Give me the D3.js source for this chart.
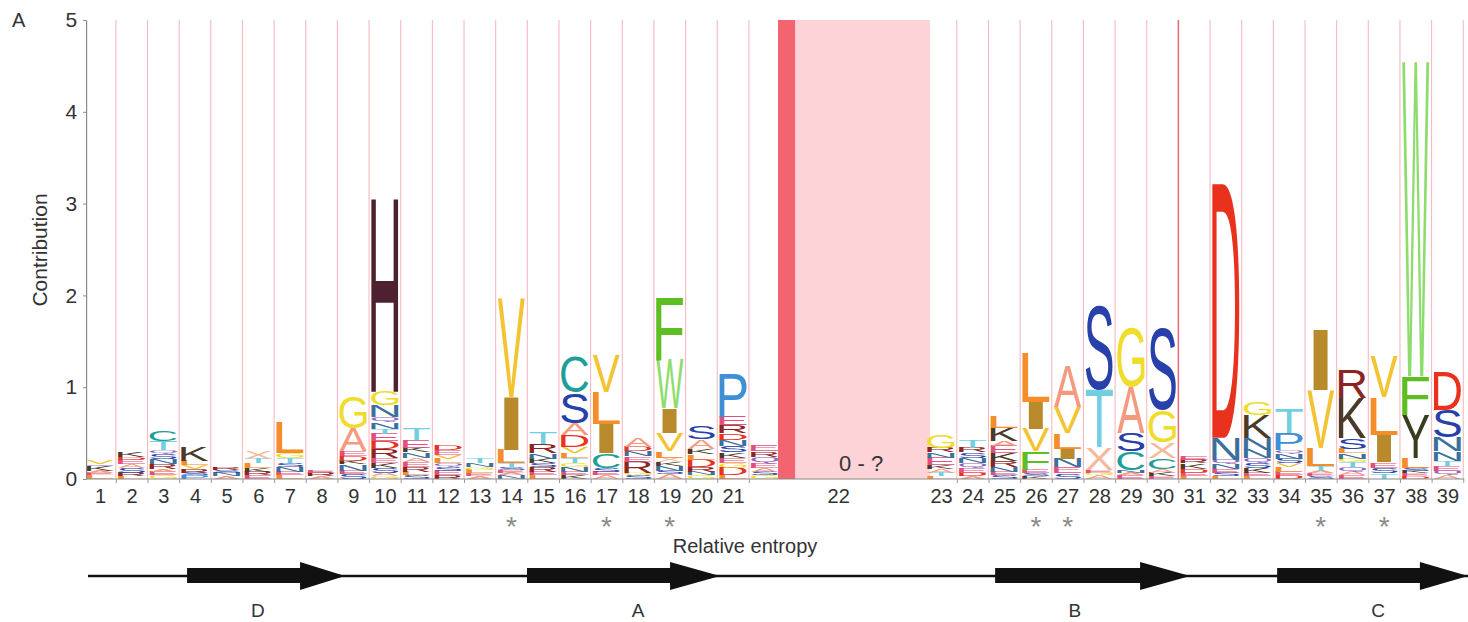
<!DOCTYPE html>
<html><head><meta charset="utf-8">
<script src="https://cdn.jsdelivr.net/npm/d3@7"></script>
<style>body{margin:0;background:#fff}svg{display:block}</style>
</head><body>
<svg id="chart" width="1468" height="622"></svg>
<script>
// ---------- data ----------
const columnLabels = ["1","2","3","4","5","6","7","8","9","10","11","12","13","14","15","16","17","18","19","20","21","","22",
  "23","24","25","26","27","28","29","30","31","32","33","34","35","36","37","38","39"];
// letters per column, bottom to top
const columnLetters = ["LEAKQV","LRSAEDK","GEARNSQTC","PSRVLK","ANSR","ERKLTX","LENSTGL","ARE","SENKDEAG",
  "GASKERDETNQNGH","SLREANKET","RESQLVED","AELGNT","NAESTLIV","LERSKNRT","KENGTLVDASC","AESCILV","SGRENDA",
  "ASNKXLVIWF","GNRDLKAS","LDGEKSNDREP","GSAEQRE","",
  "LTAKENRG","ADEQNSRT","SENRKEAKL","KSEFVIL","SENILVA","AGEXTS","EANCSAG","EKACXGS","LEDKRE","LSENQND",
  "LEKSQNNKG","DELVSNQPT","SEATLVI","EAQTGNLSKR","TSEILV","DEKSLYFW","AQETNNSD"];
const columnHeights = [
  [.04,.03,.02,.05,.02,.04],
  [.03,.04,.05,.04,.05,.03,.05],
  [.04,.04,.03,.05,.06,.05,.04,.1,.12],
  [.04,.03,.04,.04,.05,.15],
  [.03,.04,.03,.03],
  [.04,.04,.04,.05,.05,.08],
  [.04,.04,.05,.04,.06,.05,.34],
  [.03,.04,.03],
  [.05,.04,.07,.04,.05,.05,.25,.35],
  [.03,.04,.05,.05,.06,.1,.08,.08,.06,.07,.05,.13,.15,2.1],
  [.04,.04,.05,.06,.04,.06,.05,.08,.13],
  [.04,.05,.04,.04,.05,.04,.06,.06],
  [.03,.03,.04,.03,.04,.05],
  [.04,.03,.03,.03,.04,.15,.57,1.08],
  [.04,.04,.05,.04,.05,.06,.1,.12],
  [.04,.04,.05,.04,.06,.05,.07,.13,.13,.33,.39],
  [.04,.04,.04,.16,.32,.35,.4],
  [.04,.03,.12,.06,.05,.05,.1],
  [.05,.04,.05,.04,.05,.07,.2,.27,.53,.68],
  [.04,.04,.05,.08,.06,.06,.1,.14],
  [.04,.08,.05,.06,.06,.07,.07,.07,.09,.09,.47],
  [.04,.04,.04,.05,.07,.06,.07],
  [],
  [.03,.04,.04,.04,.08,.06,.05,.14],
  [.03,.04,.05,.05,.06,.06,.05,.08],
  [.04,.04,.05,.07,.08,.08,.05,.15,.12],
  [.03,.03,.04,.2,.25,.29,.53],
  [.06,.07,.09,.11,.17,.28,.44],
  [.04,.03,.03,.24,.63,.93],
  [.04,.03,.03,.2,.2,.5,.65],
  [.03,.04,.04,.12,.17,.35,.9],
  [.03,.04,.04,.06,.04,.04],
  [.03,.04,.04,.05,.05,.24,2.77],
  [.03,.04,.05,.05,.06,.09,.13,.25,.14],
  [.04,.04,.05,.04,.05,.06,.04,.18,.27],
  [.03,.03,.03,.05,.2,.63,.65],
  [.04,.04,.05,.05,.04,.06,.05,.12,.43,.31],
  [.06,.06,.06,.3,.41,.44],
  [.03,.03,.03,.03,.11,.47,.42,3.43],
  [.04,.05,.05,.06,.1,.15,.3,.42]
];
const starredColumns = ["14","17","19","26","27","35","37"];
const yTicks = [0,1,2,3,4,5];
const gapText = "0 - ?";
const strandNames = ["D","A","B","C"];
const strandStart = [3.25, 13.99, 28.78, 37.69];
const strandHeadStart = [6.82, 18.51, 33.36, 42.20];
const strandEnd = [8.24, 20.09, 34.94, 43.72];
const strandLabelAt = [5.49, 17.50, 31.30, 40.88];

// ---------- styles ----------
const letterColors = {A:"#f59a7f",C:"#1f9e9a",D:"#e8321e",E:"#e34f7a",F:"#5fbf22",G:"#f0dc2a",H:"#4e2130",
  I:"#b88a2c",K:"#4b3a28",L:"#f48d2a",M:"#b060c8",N:"#3b6f9c",P:"#3f8fd6",Q:"#9060c0",R:"#8c2424",
  S:"#2740aa",T:"#72cfe2",V:"#f3c331",W:"#8fdc6e",X:"#f6b99b",Y:"#3b3b1f"};
const FONT = "'Liberation Sans', Arial, Helvetica, sans-serif";
const textColor = "#333";

const svg = d3.select("#chart");
const x = d3.scaleLinear().domain([0, 43.72]).range([84.2, 1468]);
const y = d3.scaleLinear().domain([0, 5]).range([479, 20]);

function slotStart(i){ return i <= 21 ? i : 26.57 + (i - 23); }
const region22 = {label: 23.82, barStart: 21.92, barEnd: 22.46, pinkEnd: 26.72};

// gridlines
const bounds = [];
columnLabels.forEach((l,i)=>{ if(i!==22) bounds.push(slotStart(i)+1); });
bounds.push(26.57);
svg.append("g").selectAll("line").data(bounds).join("line")
  .attr("x1", d=>x(d)).attr("x2", d=>x(d)).attr("y1", y(5)).attr("y2", y(0))
  .attr("stroke", d=> Math.abs(d-34.57)<0.01 ? "#e8707c" : "#f7b9c0").attr("stroke-width", d=> Math.abs(d-34.57)<0.01 ? 1.6 : 1.1);

// region 22
svg.append("rect").attr("x", x(region22.barEnd)).attr("y", y(5)).attr("width", x(region22.pinkEnd)-x(region22.barEnd))
  .attr("height", y(0)-y(5)).attr("fill", "#fdd3d7");
svg.append("rect").attr("x", x(region22.barStart)).attr("y", y(5)).attr("width", x(region22.barEnd)-x(region22.barStart))
  .attr("height", y(0)-y(5)).attr("fill", "#f2646f");
svg.append("text").attr("x", x(region22.label)+23).attr("y", 471).attr("text-anchor","middle")
  .attr("font-family", FONT).attr("font-size", 22).attr("fill", textColor).text(gapText);

// glyph metrics
const ctx = document.createElement("canvas").getContext("2d");
ctx.font = "100px " + FONT;
const gm = {};
function glyph(ch){
  if(!gm[ch]){ const m = ctx.measureText(ch);
    gm[ch] = {l:m.actualBoundingBoxLeft, r:m.actualBoundingBoxRight, a:m.actualBoundingBoxAscent, d:m.actualBoundingBoxDescent}; }
  return gm[ch];
}

// letters
const letterData = [];
columnLetters.forEach((str,i)=>{
  if(i===22) return;
  let cum = 0;
  const s = slotStart(i);
  str.split("").forEach((ch,k)=>{
    const h = columnHeights[i][k];
    letterData.push({ch, s, y0:cum, y1:cum+h});
    cum += h;
  });
});
const pad = 2.2;
svg.append("g").selectAll("text").data(letterData).join("text")
  .attr("font-family", FONT).attr("font-size", 100)
  .attr("fill", d=>letterColors[d.ch])
  .attr("transform", d=>{
    const g = glyph(d.ch);
    let x0 = x(d.s)+pad, x1 = x(d.s+1)-pad;
    let w = x1-x0;
    if(d.ch==="I"){ const nw = w*0.55; x0 += (w-nw)/2; w = nw; }
    const yt = y(d.y1), hp = y(d.y0)-y(d.y1);
    return `translate(${x0},${yt}) scale(${w/(g.l+g.r)},${hp/(g.a+g.d)}) translate(${g.l},${g.a})`;
  })
  .text(d=>d.ch);

// axes
const tickVals = [], tickMap = new Map();
columnLabels.forEach((l,i)=>{ if(l==="") return; const v = i===22 ? region22.label : slotStart(i)+0.5; tickVals.push(v); tickMap.set(v,l); });
const xAxis = svg.append("g").attr("transform", `translate(0,${y(0)})`)
  .call(d3.axisBottom(x).tickValues(tickVals).tickFormat(v=>tickMap.get(v)).tickSize(0).tickSizeOuter(0).tickPadding(10));
xAxis.select(".domain").attr("stroke","#8a8a8a").attr("stroke-width",1.2).attr("d", `M${x(0.06)},0H${x(43.6)}`);
xAxis.selectAll("text").attr("font-family", FONT).attr("font-size", 20).attr("fill", textColor);
const xTicks2 = svg.append("g").attr("transform", `translate(0,${y(0)})`)
  .call(d3.axisBottom(x).tickValues(bounds.filter(b=>b<21.5||b>27)).tickFormat("").tickSize(4).tickSizeOuter(0));
xTicks2.select(".domain").remove();
xTicks2.selectAll("line").attr("stroke","#999");

const yAxis = svg.append("g").attr("transform", `translate(${x(0.06)},0)`)
  .call(d3.axisLeft(y).tickValues(yTicks).tickFormat(d3.format("d")).tickSize(3).tickSizeOuter(0).tickPadding(6));
yAxis.select(".domain").attr("stroke","#8a8a8a").attr("stroke-width",1.2);
yAxis.selectAll("line").attr("stroke","#8a8a8a");
yAxis.selectAll("text").attr("font-family", FONT).attr("font-size", 21).attr("fill", textColor);

// stars
svg.append("g").selectAll("text").data(starredColumns).join("text")
  .attr("x", d=>x(slotStart(columnLabels.indexOf(d))+0.5)).attr("y", 536)
  .attr("text-anchor","middle").attr("font-family", FONT).attr("font-size", 28).attr("fill","#8a8a8a").text("*");

// titles
svg.append("text").attr("x", 745).attr("y", 553).attr("text-anchor","middle").attr("font-family", FONT)
  .attr("font-size", 20).attr("fill", textColor).text("Relative entropy");
svg.append("text").attr("transform","translate(47,250) rotate(-90)").attr("text-anchor","middle").attr("font-family", FONT)
  .attr("font-size", 21).attr("fill", textColor).text("Contribution");
svg.append("text").attr("x", 12).attr("y", 27).attr("font-family", FONT).attr("font-size", 20).attr("fill", textColor).text("A");

// secondary structure
const lineY = 576;
svg.append("line").attr("x1", x(0.12)).attr("x2", x(43.72)).attr("y1", lineY).attr("y2", lineY)
  .attr("stroke","#111").attr("stroke-width",2.6);
const sg = svg.append("g").selectAll("g").data(strandNames.map((n,i)=>({n,i}))).join("g");
sg.append("path").attr("fill","#111").attr("d", d=>{
  const p = d3.path();
  const a = x(strandStart[d.i]), b = x(strandHeadStart[d.i]), c = x(strandEnd[d.i]);
  p.moveTo(a, lineY-8); p.lineTo(b, lineY-8); p.lineTo(b, lineY-14); p.lineTo(c, lineY);
  p.lineTo(b, lineY+14); p.lineTo(b, lineY+7); p.lineTo(a, lineY+7); p.closePath();
  return p.toString();
});
sg.append("text").attr("x", d=>x(strandLabelAt[d.i])).attr("y", 617).attr("text-anchor","middle")
  .attr("font-family", FONT).attr("font-size", 19).attr("fill", textColor).text(d=>d.n);
</script>
</body></html>
